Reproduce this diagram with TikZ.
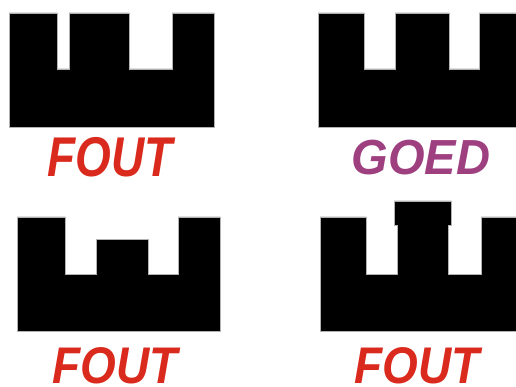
\documentclass[tikz,border=0pt]{standalone}
\usepackage{fontspec}
\setmainfont{Liberation Sans}
\definecolor{foutred}{HTML}{DA2A1E}
\definecolor{goedpurple}{HTML}{9E3F80}
\begin{document}
\begin{tikzpicture}[x=1pt,y=-1pt,
  wall/.style={fill=black,draw=gray!60,line width=0.6pt},
  lbl/.style={anchor=base,inner sep=0pt,font=\fontsize{56}{56}\selectfont\bfseries\itshape}]
\useasboundingbox (0,0) rectangle (516,387);
% top-left
\path[wall] (9,13) -- (57,13) -- (57,69) -- (69,69) -- (69,13) -- (129,13) -- (129,69) -- (172,69) -- (172,13) -- (214,13) -- (214,127) -- (9,127) -- cycle;
\node[lbl,text=foutred] (l1) at (110,177) {\scalebox{0.82}[1]{FOUT}};
% top-right
\path[wall] (318,13) -- (364,13) -- (364,69) -- (395,69) -- (395,13) -- (449,13) -- (449,69) -- (479,69) -- (479,13) -- (517,13) -- (517,127) -- (318,127) -- cycle;
\node[lbl,text=goedpurple] (l2) at (421,175) {\scalebox{0.84}[0.88]{GOED}};
% bottom-left
\path[wall] (17,217) -- (65,217) -- (65,274) -- (96,274) -- (96,239) -- (148,239) -- (148,274) -- (178,274) -- (178,217) -- (220,217) -- (220,331) -- (17,331) -- cycle;
\node[lbl,text=foutred] (l3) at (115,383) {\raisebox{0pt}[\height][0pt]{\scalebox{0.82}[0.92]{FOUT}}};
% bottom-right
\path[wall] (320,217) -- (366,217) -- (366,274) -- (397,274) -- (397,225) -- (394,225) -- (394,201) -- (451,201) -- (451,225) -- (448,225) -- (448,274) -- (481,274) -- (481,217) -- (517,217) -- (517,331) -- (320,331) -- cycle;
\node[lbl,text=foutred] (l4) at (417,383) {\raisebox{0pt}[\height][0pt]{\scalebox{0.82}[0.92]{FOUT}}};
\end{tikzpicture}
\end{document}
